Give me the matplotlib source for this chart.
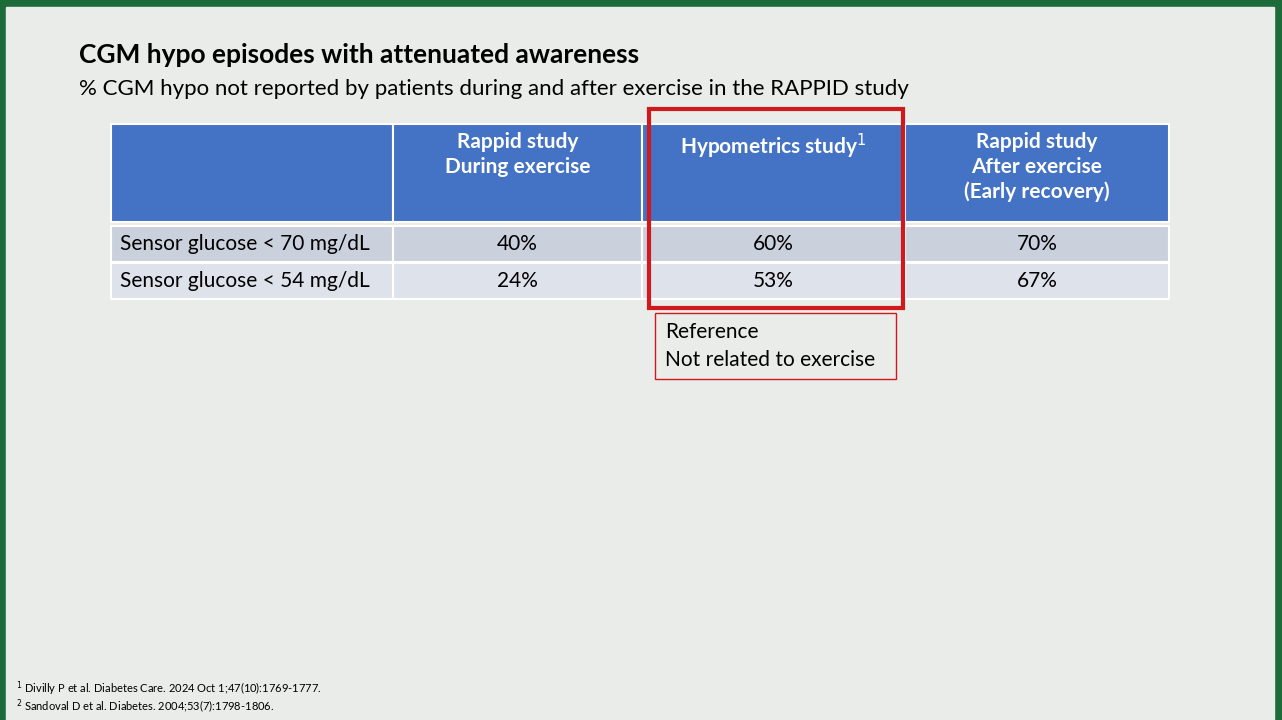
import matplotlib.pyplot as plt
from matplotlib.patches import Rectangle

plt.rcParams['font.family'] = ['Lato', 'DejaVu Sans']


def draw_plot():
    # Table content
    headers = ['', 'Rappid study\nDuring exercise', 'Hypometrics study$^1$',
               'Rappid study\nAfter exercise\n(Early recovery)']
    rows = [['Sensor glucose < 70 mg/dL', '40%', '60%', '70%'],
            ['Sensor glucose < 54 mg/dL', '24%', '53%', '67%']]
    col_edges = [111, 393, 642, 905, 1169]
    row_edges = [(124, 222), (226, 262), (263, 299)]
    row_colors = ['#4472C4', '#CBD0DD', '#DEE2EA']

    # Create slide canvas
    fig = plt.figure(figsize=(12.82, 7.2), dpi=100)
    fig.patch.set_facecolor('#1E6B3A')
    ax = fig.add_axes([0, 0, 1, 1])
    ax.set_xlim(0, 1282)
    ax.set_ylim(720, 0)
    ax.axis('off')
    ax.add_patch(Rectangle((6, 7), 1268, 713, color='#E9ECE8'))

    # Draw table cells
    for r, (y0, y1) in enumerate(row_edges):
        for c in range(4):
            x0, x1 = col_edges[c], col_edges[c + 1]
            ax.add_patch(Rectangle((x0, y0), x1 - x0, y1 - y0, facecolor=row_colors[r],
                                   edgecolor='white', lw=1.5))
            if r == 0:
                ax.text((x0 + x1) / 2, y0 + 8, headers[c], color='white', fontsize=15,
                        fontweight='bold', ha='center', va='top', linespacing=1.3)
            else:
                txt = rows[r - 1][c]
                if c == 0:
                    ax.text(x0 + 9, (y0 + y1) / 2, txt, fontsize=15, va='center')
                else:
                    ax.text((x0 + x1) / 2, (y0 + y1) / 2, txt, fontsize=15,
                            ha='center', va='center')

    # Highlight box and reference note
    ax.add_patch(Rectangle((649, 109), 254, 199, fill=False, edgecolor='#D0191C', lw=3))
    ax.add_patch(Rectangle((655, 313), 241, 66, fill=False, edgecolor='#D0191C', lw=1))
    ax.text(665, 346, 'Reference\nNot related to exercise', fontsize=15, va='center',
            linespacing=1.45)

    # Add title and subtitle
    ax.text(79, 55, 'CGM hypo episodes with attenuated awareness', fontsize=19,
            fontweight='bold', va='center')
    ax.text(79, 89, '% CGM hypo not reported by patients during and after exercise in the RAPPID study',
            fontsize=16, va='center')

    # Footnotes
    ax.text(16, 689, '$^1$ Divilly P et al. Diabetes Care. 2024 Oct 1;47(10):1769-1777.',
            fontsize=8, va='center')
    ax.text(16, 706, '$^2$ Sandoval D et al. Diabetes. 2004;53(7):1798-1806.',
            fontsize=8, va='center')

    plt.savefig('out.png', dpi=100)
    return ax


draw_plot()
